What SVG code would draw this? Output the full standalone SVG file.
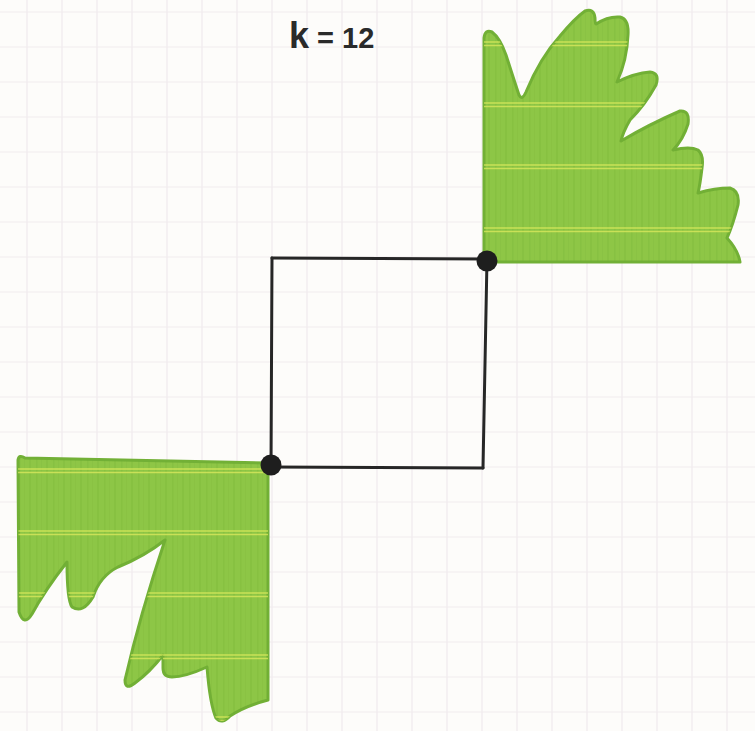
<svg xmlns="http://www.w3.org/2000/svg" width="755" height="731" viewBox="0 0 755 731">
<style>
.grid line{stroke:#ede6eb;stroke-width:1}
.grid .h{stroke:#f1ecee}
.leaf{fill:#8ec646;stroke:#72b036;stroke-width:3;stroke-linejoin:round}
.tex{fill:url(#streaks)}
.stripe{stroke:#d9e85c;stroke-width:1.3;opacity:.8}
.edge{stroke:#262626;stroke-width:3;stroke-linecap:round;fill:none}
.dot{fill:#1e1e1e}
.lbl{font-family:"Liberation Sans",Arial,sans-serif;font-weight:700;fill:#2a2a2a}
</style>
<defs>
<pattern id="streaks" patternUnits="userSpaceOnUse" width="17" height="20">
<rect x="2" y="0" width="1.5" height="20" fill="#6fae34" opacity=".22"/>
<rect x="7" y="0" width="1" height="20" fill="#6fae34" opacity=".15"/>
<rect x="12" y="0" width="2" height="20" fill="#6fae34" opacity=".2"/>
</pattern>
<path id="trShape" d="M484,262 L484,38 Q485,29 492,32 Q500,38 506,55 Q514,80 519,95 Q522,101 526,92 Q540,58 560,36 Q575,18 585,11 Q594,8 595,18 Q595,24 596,24 Q608,16 620,17 Q629,19 628,35 Q627,60 617,82 Q635,73 650,72 Q660,73 656,85 Q645,105 630,120 Q623,132 621,141 Q650,124 680,111 Q690,110 688,124 Q683,140 673,150 Q690,146 698,150 Q704,155 702,168 Q700,185 698,193 Q715,188 730,188 Q740,191 738,205 Q733,225 727,238 Q738,250 740,262 Z"/>
<path id="blShape" d="M18,460 Q19,454 25,458 L268,463 L268,700 Q245,706 230,716 Q222,725 216,718 Q210,705 207,667 Q185,677 172,677 Q163,677 163,668 L163,655 Q150,672 135,683 Q125,691 125,680 Q140,615 165,540 Q145,556 118,567 Q100,576 93,597 Q83,614 72,607 Q67,600 67,562 Q45,590 32,614 Q24,627 19,612 Z"/>
<clipPath id="clipTR"><use href="#trShape"/></clipPath>
<clipPath id="clipBL"><use href="#blShape"/></clipPath>
</defs>
<rect width="755" height="731" fill="#fdfcfa"/>
<g id="grid" class="grid">
<line x1="27" y1="0" x2="27" y2="731"/><line x1="62" y1="0" x2="62" y2="731"/><line x1="97" y1="0" x2="97" y2="731"/><line x1="132" y1="0" x2="132" y2="731"/><line x1="167" y1="0" x2="167" y2="731"/><line x1="202" y1="0" x2="202" y2="731"/><line x1="237" y1="0" x2="237" y2="731"/><line x1="272" y1="0" x2="272" y2="731"/><line x1="307" y1="0" x2="307" y2="731"/><line x1="342" y1="0" x2="342" y2="731"/><line x1="377" y1="0" x2="377" y2="731"/><line x1="412" y1="0" x2="412" y2="731"/><line x1="447" y1="0" x2="447" y2="731"/><line x1="482" y1="0" x2="482" y2="731"/><line x1="517" y1="0" x2="517" y2="731"/><line x1="552" y1="0" x2="552" y2="731"/><line x1="587" y1="0" x2="587" y2="731"/><line x1="622" y1="0" x2="622" y2="731"/><line x1="657" y1="0" x2="657" y2="731"/><line x1="692" y1="0" x2="692" y2="731"/><line x1="727" y1="0" x2="727" y2="731"/>
<line class="h" x1="0" y1="12" x2="755" y2="12"/><line class="h" x1="0" y1="47" x2="755" y2="47"/><line class="h" x1="0" y1="82" x2="755" y2="82"/><line class="h" x1="0" y1="117" x2="755" y2="117"/><line class="h" x1="0" y1="152" x2="755" y2="152"/><line class="h" x1="0" y1="187" x2="755" y2="187"/><line class="h" x1="0" y1="222" x2="755" y2="222"/><line class="h" x1="0" y1="257" x2="755" y2="257"/><line class="h" x1="0" y1="292" x2="755" y2="292"/><line class="h" x1="0" y1="327" x2="755" y2="327"/><line class="h" x1="0" y1="362" x2="755" y2="362"/><line class="h" x1="0" y1="397" x2="755" y2="397"/><line class="h" x1="0" y1="432" x2="755" y2="432"/><line class="h" x1="0" y1="467" x2="755" y2="467"/><line class="h" x1="0" y1="502" x2="755" y2="502"/><line class="h" x1="0" y1="537" x2="755" y2="537"/><line class="h" x1="0" y1="572" x2="755" y2="572"/><line class="h" x1="0" y1="607" x2="755" y2="607"/><line class="h" x1="0" y1="642" x2="755" y2="642"/><line class="h" x1="0" y1="677" x2="755" y2="677"/><line class="h" x1="0" y1="712" x2="755" y2="712"/>
</g>
<g id="region-top-right">
<use href="#trShape" class="leaf"/>
<use href="#trShape" class="tex"/>
<g clip-path="url(#clipTR)" class="stripe">
<line x1="480" y1="42" x2="745" y2="42"/><line x1="480" y1="45.5" x2="745" y2="45.5"/>
<line x1="480" y1="103" x2="745" y2="103"/><line x1="480" y1="106.5" x2="745" y2="106.5"/>
<line x1="480" y1="165" x2="745" y2="165"/><line x1="480" y1="168.5" x2="745" y2="168.5"/>
<line x1="480" y1="228" x2="745" y2="228"/><line x1="480" y1="231.5" x2="745" y2="231.5"/>
</g>
</g>
<g id="region-bottom-left">
<use href="#blShape" class="leaf"/>
<use href="#blShape" class="tex"/>
<g clip-path="url(#clipBL)" class="stripe">
<line x1="10" y1="469" x2="275" y2="469"/><line x1="10" y1="472.5" x2="275" y2="472.5"/>
<line x1="10" y1="531" x2="275" y2="531"/><line x1="10" y1="534.5" x2="275" y2="534.5"/>
<line x1="10" y1="593" x2="275" y2="593"/><line x1="10" y1="596.5" x2="275" y2="596.5"/>
<line x1="10" y1="655" x2="275" y2="655"/><line x1="10" y1="658.5" x2="275" y2="658.5"/>
<line x1="10" y1="717" x2="275" y2="717"/><line x1="10" y1="720.5" x2="275" y2="720.5"/>
</g>
</g>
<g id="connectors">
<line class="edge" x1="272" y1="258" x2="487" y2="259"/>
<line class="edge" x1="487" y1="259" x2="483" y2="468"/>
<line class="edge" x1="483" y1="468" x2="271" y2="467"/>
<line class="edge" x1="271" y1="467" x2="272" y2="258"/>
</g>
<g id="point-top-right"><circle class="dot" cx="487" cy="261" r="10.5"/></g>
<g id="point-bottom-left"><circle class="dot" cx="271" cy="465" r="10.5"/></g>
<g id="label"><text class="lbl" x="289" y="48"><tspan font-size="36">k</tspan><tspan font-size="29"> = 12</tspan></text></g>
</svg>
